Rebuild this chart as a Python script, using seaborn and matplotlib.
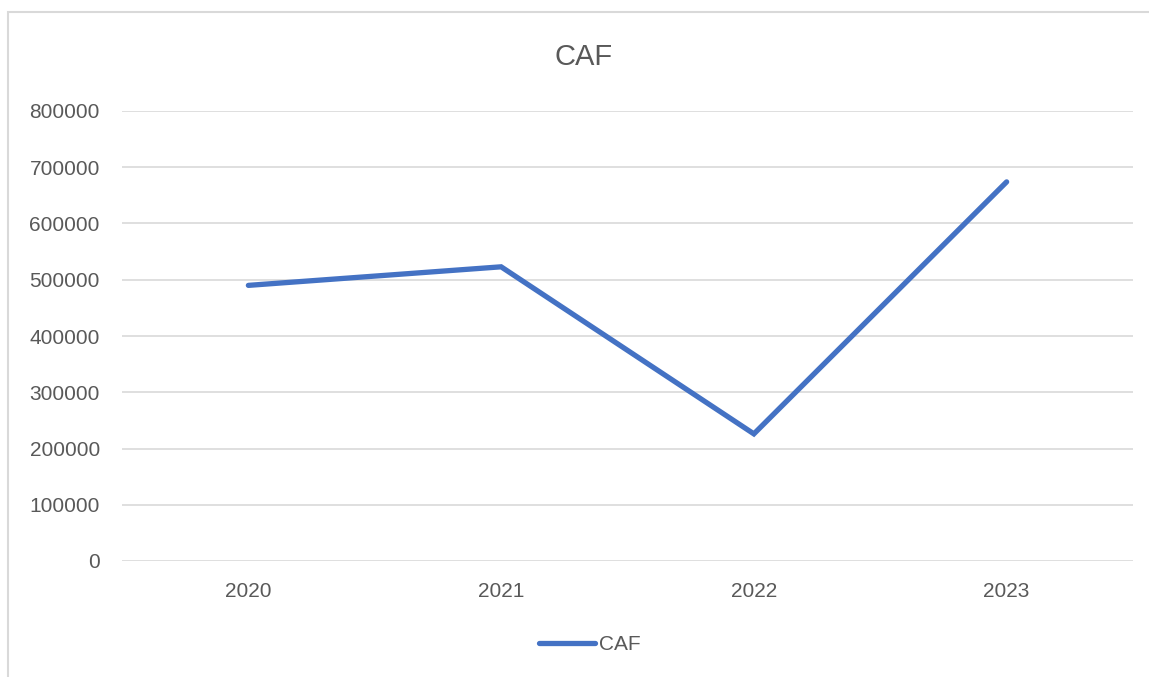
import pandas as pd
import matplotlib.pyplot as plt
import seaborn as sns
from matplotlib.patches import Rectangle

# values
years = ['2020', '2021', '2022', '2023']
caf = [490000, 523000, 226000, 674000]
yticks = [0, 100000, 200000, 300000, 400000, 500000, 600000, 700000, 800000]

df = pd.DataFrame({'Year': years, 'CAF': caf})

sns.set_style('white')
plt.rcParams['font.family'] = ['Liberation Sans', 'DejaVu Sans']
text_color = '#595959'
grid_color = '#D9D9D9'

W, H = 1149, 677
fig = plt.figure(figsize=(W / 100, H / 100), dpi=100)
ax = fig.add_axes([122 / W, 1 - 561 / H, (1133 - 122) / W, 450 / H])

sns.lineplot(data=df, x='Year', y='CAF', ax=ax, color='#4472C4', linewidth=3.8,
             solid_capstyle='round', solid_joinstyle='miter', label='CAF', legend=False)

ax.set_xlim(-0.5, 3.5)
ax.set_ylim(0, 800000)
ax.set_yticks(yticks)
ax.set_yticklabels([str(v) for v in yticks])
ax.set_xlabel('')
ax.set_ylabel('')
ax.grid(axis='y', color=grid_color, linewidth=1.2)
ax.set_axisbelow(True)
for side in ['top', 'right', 'left', 'bottom']:
    ax.spines[side].set_visible(False)
ax.tick_params(axis='both', length=0, labelsize=15, labelcolor=text_color)
ax.tick_params(axis='y', pad=16)
ax.tick_params(axis='x', pad=15)

fig.text(584 / W, 1 - 57 / H, 'CAF', ha='center', va='center', fontsize=21, color=text_color)

handles, labels = ax.get_legend_handles_labels()
leg = fig.legend(handles, labels, loc='center', bbox_to_anchor=(590 / W, 1 - 645 / H),
                 frameon=False, fontsize=15, handlelength=2.7, handletextpad=0.2,
                 labelcolor=text_color)

# chart area border (cut off at right and bottom in the screenshot)
fig.patches.append(Rectangle((8 / W, -0.1), 1.2, 1 - 12 / H + 0.1, transform=fig.transFigure,
                             fill=False, edgecolor='#D9D9D9', linewidth=1.5))

fig.savefig('out.png', dpi=100)
